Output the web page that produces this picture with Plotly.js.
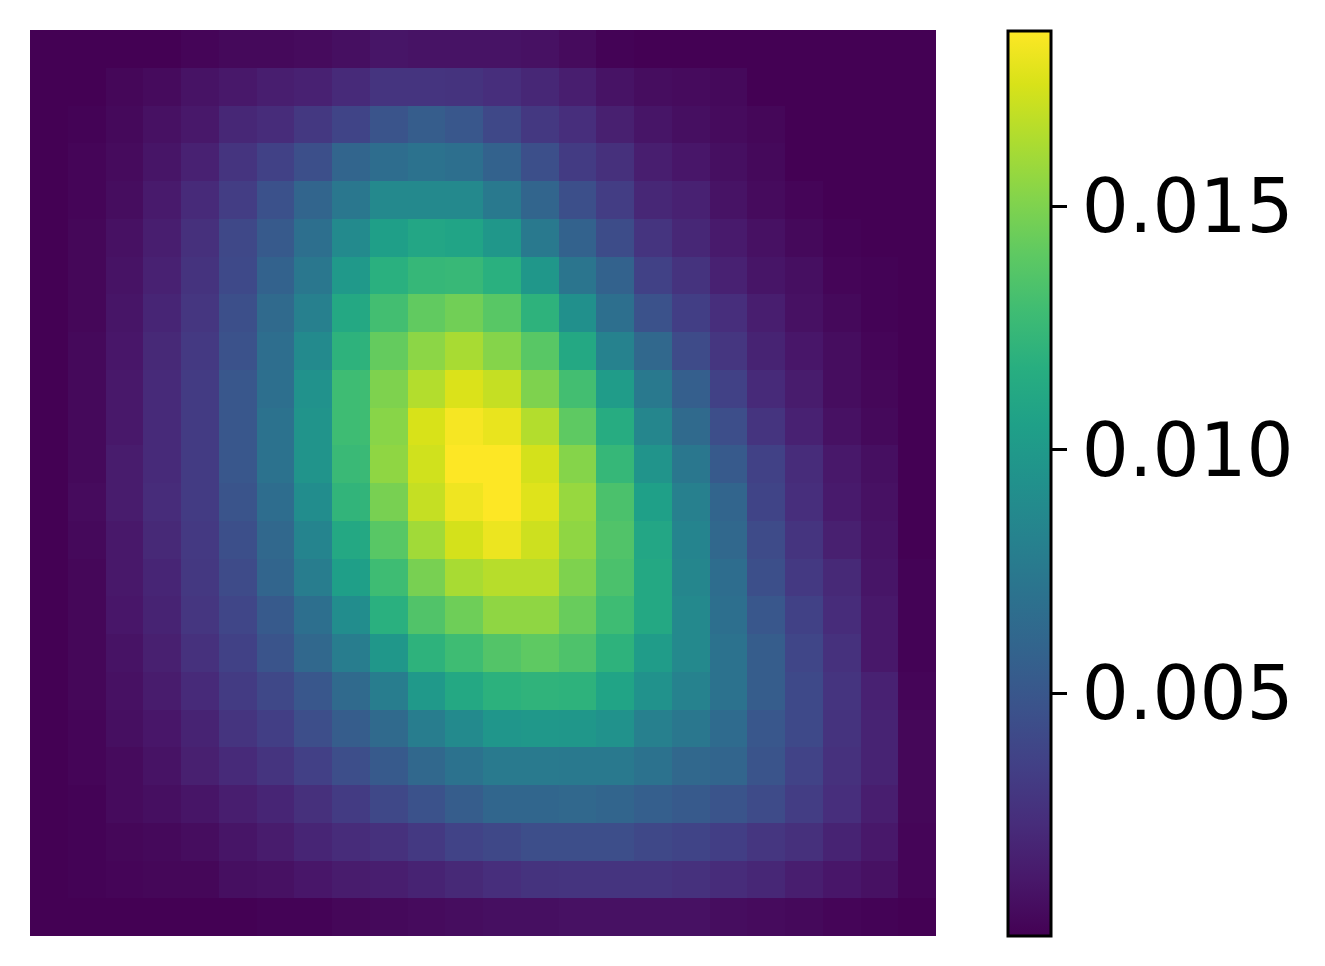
<!DOCTYPE html>
<html>
<head>
<meta charset="utf-8">
<script src="https://cdn.plot.ly/plotly-3.0.1.min.js"></script>
<style>html,body{margin:0;padding:0;background:#fff;overflow:hidden}</style>
</head>
<body>
<div id="chart" style="width:1325px;height:966px"></div>
<script>
// Cell values in units of 1e-4, top row first
const row00 = [0,0,0,0,2,4,4,5,7,10,9,9,9,8,5,1,0,0,0,0,0,0,0,0];
const row01 = [0,0,3,5,9,12,15,17,22,28,28,27,24,20,15,9,6,5,4,0,0,0,0,0];
const row02 = [0,1,4,8,12,20,23,30,38,48,54,50,40,30,24,16,10,7,5,3,0,0,0,0];
const row03 = [0,2,5,10,17,28,36,45,60,66,70,68,58,45,32,25,15,11,7,4,0,0,0,0];
const row04 = [0,2,6,13,22,33,46,60,74,87,87,87,75,60,45,33,20,17,9,5,2,0,0,0];
const row05 = [0,3,8,15,25,40,52,68,88,104,110,108,98,75,58,43,28,20,13,8,4,1,0,0];
const row06 = [0,3,9,17,27,41,58,74,100,118,124,125,118,98,72,58,36,27,17,10,7,2,1,0];
const row07 = [0,3,10,19,29,45,64,80,112,130,141,146,138,120,93,68,47,34,24,15,8,4,1,0];
const row08 = [0,4,11,21,31,47,67,88,120,142,154,162,152,138,112,82,62,42,29,18,11,6,2,0];
const row09 = [0,4,12,22,32,50,68,94,128,150,165,176,170,150,130,102,75,56,36,22,14,6,3,0];
const row10 = [0,4,12,22,32,50,70,96,128,153,175,184,180,165,140,115,85,64,44,28,17,8,4,0];
const row11 = [0,4,14,22,32,50,70,96,126,155,173,186,186,174,152,124,96,74,52,36,23,12,7,0];
const row12 = [0,5,14,23,32,48,66,90,122,148,170,182,186,177,157,133,105,80,60,38,24,13,8,0];
const row13 = [0,4,12,21,31,45,62,83,112,138,160,174,181,172,155,135,110,83,62,42,28,16,9,0];
const row14 = [0,3,12,19,30,42,60,78,104,128,148,162,166,166,150,133,112,85,66,45,31,21,10,1];
const row15 = [0,3,11,18,29,39,52,68,90,118,135,145,155,155,143,128,112,87,68,50,36,23,12,1];
const row16 = [0,3,9,16,26,36,48,62,78,98,120,128,136,140,134,120,102,87,70,54,39,26,12,1];
const row17 = [0,3,8,14,22,32,40,50,64,78,100,112,119,121,120,108,94,82,70,54,41,28,17,2];
const row18 = [0,2,7,11,18,28,34,44,54,64,78,88,97,99,98,94,80,74,65,50,41,27,18,3];
const row19 = [0,2,5,9,16,22,28,35,44,52,62,70,76,76,75,75,70,62,60,48,37,26,18,3];
const row20 = [0,1,5,7,10,15,19,25,32,40,47,54,61,61,62,60,56,52,48,42,33,24,15,3];
const row21 = [0,1,3,4,6,10,14,19,23,26,31,37,40,44,44,44,40,38,34,29,25,18,12,2];
const row22 = [0,1,2,3,3,7,8,11,14,15,18,21,24,27,28,28,28,26,23,20,15,11,8,2];
const row23 = [0,0,0,0,0,0,1,1,3,4,5,6,7,7,8,8,8,8,6,5,4,2,1,0];
const rows = [row00,row01,row02,row03,row04,row05,row06,row07,row08,row09,row10,row11,
              row12,row13,row14,row15,row16,row17,row18,row19,row20,row21,row22,row23];
const valueUnit = 1e-4;
const colorTicks = [0.005, 0.010, 0.015];
const colorTickLabels = ["0.005", "0.010", "0.015"];
const zLow = 0.00001, zHigh = 0.0186;

const W = 1325, H = 966;
Plotly.newPlot("chart", [{
  type: "heatmap",
  z: rows.map(r => r.map(v => v * valueUnit)),
  colorscale: "Viridis",
  reversescale: false,
  zmin: zLow, zmax: zHigh,
  zsmooth: false,
  xgap: 0, ygap: 0,
  colorbar: {
    thicknessmode: "pixels", thickness: 43,
    lenmode: "pixels", len: 905,
    xref: "container", yref: "container",
    x: 1007.5/W, xanchor: "left", xpad: 0,
    y: 482.5/H, yanchor: "middle", ypad: 0,
    outlinewidth: 3, outlinecolor: "#000",
    borderwidth: 0,
    tickmode: "array", tickvals: colorTicks, ticktext: colorTickLabels,
    ticks: "outside", ticklen: 15, tickwidth: 3, tickcolor: "#000",
    tickfont: {family: "DejaVu Sans", size: 74, color: "#000"}
  }
}], {
  width: W, height: H,
  margin: {l: 0, r: 0, t: 0, b: 0, pad: 0, autoexpand: false},
  paper_bgcolor: "#fff", plot_bgcolor: "#fff",
  xaxis: {domain: [30/W, 936/W], range: [-0.5, 23.5], visible: false, fixedrange: true},
  yaxis: {domain: [30/H, 936/H], range: [23.5, -0.5], visible: false, fixedrange: true},
  showlegend: false
}, {displayModeBar: false, staticPlot: true});
</script>
</body>
</html>
